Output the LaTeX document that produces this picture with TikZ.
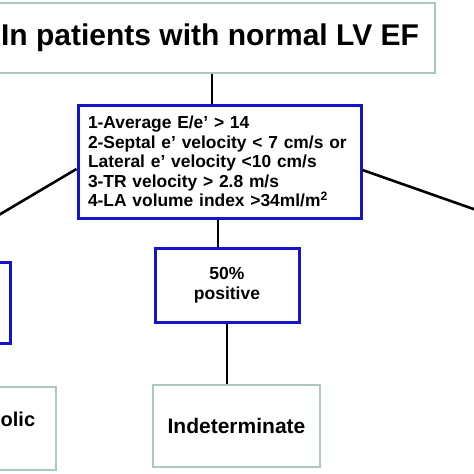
\documentclass[tikz,border=0pt]{standalone}
\usepackage{fontspec}
\setmainfont{Liberation Sans}
\definecolor{boxblue}{RGB}{20,20,200}
\definecolor{boxgray}{RGB}{170,200,192}
\tikzset{
  graybox/.style={draw=boxgray, line width=1.3pt, fill=white, inner sep=0pt, align=center, font=\bfseries\fontsize{21}{24}\selectfont},
  bluebox/.style={draw=boxblue, line width=3pt, fill=white, inner sep=0pt, align=center, font=\bfseries\fontsize{17.5}{19.5}\selectfont},
  conn/.style={draw=black, line width=2.6pt},
}
\begin{document}
\begin{tikzpicture}[x=1pt,y=-1pt]
\useasboundingbox (0,0) rectangle (474,474);
\clip (0,0) rectangle (474,474);
% top box
\node[graybox, minimum width=450, minimum height=70, font=\bfseries\fontsize{30}{33}\selectfont] (top) at (210,38) {In patients with normal LV EF};
% middle criteria box
\node[bluebox, minimum width=283, minimum height=113, text width=263, inner xsep=10pt, align=left, font=\bfseries\fontsize{17.4}{19.5}\selectfont] (mid) at (219.5,161.5)
  {1-Average E/e’ > 14\\
   2-Septal e’ velocity < 7 cm/s or\\
   Lateral e’ velocity <10 cm/s\\
   3-TR velocity > 2.8 m/s\\
   4-LA volume index >34ml/m\textsuperscript{2}};
% 50% box
\node[bluebox, minimum width=144, minimum height=74] (half) at (227,285) {50\%\\positive};
% left blue box (cut off)
\node[bluebox, minimum width=70, minimum height=81] (lblue) at (-25,302.5) {};
% bottom boxes
\node[graybox, minimum width=167, minimum height=82] (indet) at (236.5,426) {Indeterminate};
\node[graybox, minimum width=156, minimum height=83] (lbot) at (-22,428.5) {};
\node[font=\bfseries\fontsize{20}{23}\selectfont, anchor=west, inner sep=0pt] (lbottxt) at (0.5,419) {olic};
% connectors
\coordinate (lend) at (-8,219);
\coordinate (rend) at (482,212);
\draw[line width=1.6pt] ([xshift=2pt]top.south) -- ([xshift=2pt]top.south |- mid.north);
\draw[conn] ([yshift=-7.5pt]mid.west) -- (lend);
\draw[conn] ([yshift=-8.5pt]mid.east) -- (rend);
\draw[conn] ([xshift=-1.5pt]mid.south) -- ([xshift=-1.5pt]mid.south |- half.north);
\draw[conn] (half.south) -- (half.south |- indet.north);
\end{tikzpicture}
\end{document}
